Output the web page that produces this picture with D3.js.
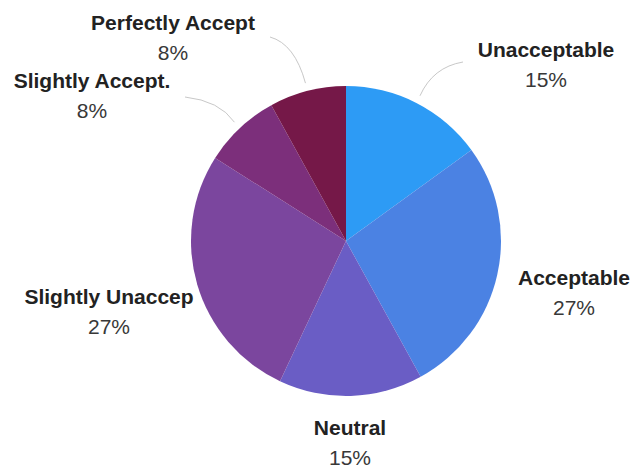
<!DOCTYPE html>
<html>
<head>
<meta charset="utf-8">
<script src="https://cdn.jsdelivr.net/npm/d3@7"></script>
<style>
  html, body { margin: 0; padding: 0; background: #fff; }
  svg { display: block; }
</style>
</head>
<body>
<svg id="chart" width="632" height="468"></svg>
<script>
// Survey answers, clockwise from 12 o'clock
const categories = ["Unacceptable", "Acceptable", "Neutral", "Slightly Unaccep", "Slightly Accept.", "Perfectly Accept"];
const shares = [15, 27, 15, 27, 8, 8];
const colors = ["#2d9bf5", "#4b82e3", "#6a5dc5", "#7b469e", "#7c2f7b", "#751848"];

// Label text anchors (centre / baseline of the name line) and leader line starts
const labelAnchors = [[546, 57], [574, 285], [350, 435], [109, 304], [92, 88], [173, 30]];
const leaderStarts = [[463, 62], null, null, null, [185, 97], [270, 37]];

const svg = d3.select("#chart");
const cx = 346, cy = 241, radius = 155;

const pie = d3.pie().sort(null).value(d => d)(shares);
const arc = d3.arc().innerRadius(0).outerRadius(radius);

const g = svg.append("g").attr("transform", `translate(${cx},${cy})`);

g.selectAll("path.slice")
  .data(pie)
  .join("path")
  .attr("class", "slice")
  .attr("d", arc)
  .attr("fill", (d, i) => colors[i]);

// Leader lines: curve from label toward the slice's mid-angle, just outside the rim
pie.forEach((d, i) => {
  const s = leaderStarts[i];
  if (!s) return;
  const mid = (d.startAngle + d.endAngle) / 2;
  const r = radius + 8;
  const ex = cx + r * Math.sin(mid), ey = cy - r * Math.cos(mid);
  const c1x = s[0] * 0.3 + ex * 0.7, c1y = s[1] * 0.85 + ey * 0.15;
  const p = d3.path();
  p.moveTo(s[0], s[1]);
  p.quadraticCurveTo(c1x, c1y, ex, ey);
  svg.append("path")
    .attr("d", p.toString())
    .attr("fill", "none")
    .attr("stroke", "#c8c8c8")
    .attr("stroke-width", 1);
});

// Labels: bold category name with percentage beneath
const labels = svg.selectAll("g.label")
  .data(pie)
  .join("g")
  .attr("class", "label")
  .attr("transform", (d, i) => `translate(${labelAnchors[i][0]},${labelAnchors[i][1]})`);

labels.append("text")
  .attr("text-anchor", "middle")
  .attr("font-family", "'Liberation Sans', Arial, sans-serif")
  .attr("font-size", 21)
  .attr("font-weight", "bold")
  .attr("fill", "#222")
  .text((d, i) => categories[i]);

labels.append("text")
  .attr("text-anchor", "middle")
  .attr("y", 29.5)
  .attr("font-family", "'Liberation Sans', Arial, sans-serif")
  .attr("font-size", 21)
  .attr("fill", "#383838")
  .text(d => d.data + "%");
</script>
</body>
</html>
